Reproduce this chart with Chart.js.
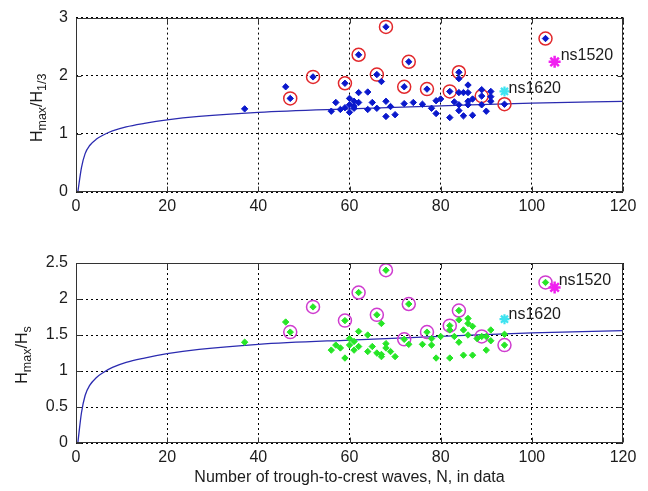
<!DOCTYPE html>
<html>
<head>
<meta charset="utf-8">
<script src="https://cdn.jsdelivr.net/npm/chart.js@4"></script>
<style>
  html, body { margin: 0; padding: 0; background: #fff; }
  #wrap { position: relative; width: 648px; height: 491px; }
  canvas { position: absolute; left: 0; }
  #top { top: 0; }
  #bot { top: 230px; }
</style>
</head>
<body>
<div id="wrap">
  <canvas id="top" width="648" height="230"></canvas>
  <canvas id="bot" width="648" height="261"></canvas>
</div>
<script>
// theoretical curve
const curveN = [0.4, 1.2, 2, 3, 4.5, 6, 8, 11, 15, 20, 27, 40, 60, 80, 100, 120];
const curveR = [0, 0.42, 0.66, 0.80, 0.91, 0.98, 1.05, 1.12, 1.18, 1.24, 1.30, 1.37, 1.43, 1.48, 1.53, 1.56];

// circled (outlier) records, shared N
const outN    = [47, 52, 59, 62, 66, 68, 72, 73, 77, 82, 84, 89, 94, 103];
const topOutR = [1.61, 1.98, 1.87, 2.36, 2.02, 2.84, 1.81, 2.24, 1.77, 1.73, 2.06, 1.65, 1.51, 2.64];
const botOutR = [1.54, 1.89, 1.70, 2.09, 1.78, 2.40, 1.44, 1.93, 1.54, 1.63, 1.84, 1.48, 1.36, 2.23];

// remaining records, upper panel (Hmax/H1/3)
const topN = [37, 46, 56, 57, 58, 59, 60, 60, 60, 61, 61, 61, 62, 62, 64, 64, 65, 66, 67, 68, 68, 69, 70,
              72, 74, 76, 78, 79, 79, 80, 82, 83, 84, 84, 84, 84, 85, 85, 86, 86, 86, 86, 87, 87,
              89, 89, 90, 91, 91, 91];
const topR = [1.43, 1.81, 1.39, 1.54, 1.42, 1.45, 1.61, 1.37, 1.50, 1.48, 1.44, 1.56, 1.71, 1.54, 1.72, 1.42, 1.54, 1.44, 1.90, 1.56, 1.30, 1.47, 1.33,
              1.52, 1.54, 1.51, 1.44, 1.35, 1.57, 1.60, 1.28, 1.55, 1.71, 1.95, 1.40, 1.50, 1.31, 1.71, 1.71, 1.56, 1.84, 1.50, 1.32, 1.60,
              1.76, 1.50, 1.39, 1.73, 1.56, 1.64];

// remaining records, lower panel (Hmax/Hs)
const botN = [37, 46, 56, 57, 58, 59, 60, 60, 61, 61, 62, 62, 64, 64, 65, 66, 67, 67, 67, 68, 68, 69, 70,
              73, 76, 78, 78, 79, 80, 82, 82, 83, 84, 84, 85, 85, 86, 86, 86, 87, 87, 88, 90, 90, 91, 91, 94];
const botR = [1.40, 1.68, 1.29, 1.36, 1.32, 1.18, 1.45, 1.36, 1.29, 1.41, 1.55, 1.34, 1.50, 1.27, 1.34, 1.25, 1.66, 1.23, 1.20, 1.32, 1.38, 1.27, 1.20,
              1.37, 1.37, 1.36, 1.45, 1.18, 1.48, 1.18, 1.57, 1.48, 1.40, 1.71, 1.22, 1.57, 1.50, 1.73, 1.66, 1.62, 1.22, 1.45, 1.48, 1.29, 1.57, 1.42, 1.51];

// named records
const specNames = ['ns1620', 'ns1520'];
const specN     = [94, 105];
const topSpecR  = [1.73, 2.24];
const botSpecR  = [1.72, 2.16];

const xTicks = [0, 20, 40, 60, 80, 100, 120];

const FONT = '"Liberation Sans", Arial, Helvetica, sans-serif';
const TXT = '#1c1c1c';

const pts = (xs, ys) => xs.map((v, i) => ({ x: v, y: ys[i] }));

function drawSubLabel(ctx, parts, x, yc) {
  const big = '16px ' + FONT, small = '12.5px ' + FONT;
  let w = 0;
  parts.forEach(p => { ctx.font = p[1] ? small : big; w += ctx.measureText(p[0]).width; });
  ctx.save();
  ctx.translate(x, yc);
  ctx.rotate(-Math.PI / 2);
  ctx.textAlign = 'left';
  ctx.textBaseline = 'alphabetic';
  ctx.fillStyle = TXT;
  let u = -w / 2;
  parts.forEach(p => {
    ctx.font = p[1] ? small : big;
    ctx.fillText(p[0], u, p[1] ? 4 : 0);
    u += ctx.measureText(p[0]).width;
  });
  ctx.restore();
}

// matlab-ish box, inward ticks, labels and text notes
const frame = {
  id: 'frame',
  afterDraw(chart, args, o) {
    const { ctx, chartArea: a, scales: { x, y } } = chart;
    ctx.save();
    ctx.strokeStyle = '#333';
    ctx.lineWidth = 1;
    const L = Math.round(a.left) + 0.5, R = Math.round(a.right) - 0.5;
    const T = Math.round(a.top) + 0.5, B = Math.round(a.bottom) - 0.5;
    ctx.strokeRect(L, T, R - L, B - T);
    ctx.beginPath();
    x.ticks.forEach(t => {
      const p = Math.round(x.getPixelForValue(t.value)) + 0.5;
      ctx.moveTo(p, B); ctx.lineTo(p, B - 5);
      ctx.moveTo(p, T); ctx.lineTo(p, T + 5);
    });
    y.ticks.forEach(t => {
      const p = Math.round(y.getPixelForValue(t.value)) + 0.5;
      ctx.moveTo(L, p); ctx.lineTo(L + 5, p);
      ctx.moveTo(R, p); ctx.lineTo(R - 5, p);
    });
    ctx.stroke();

    drawSubLabel(ctx, o.ylabel, o.ylabelX, (a.top + a.bottom) / 2 + o.ylabelDy);

    ctx.fillStyle = TXT;
    ctx.font = '16px ' + FONT;
    ctx.textAlign = 'left';
    ctx.textBaseline = 'middle';
    o.notes.forEach(n => {
      ctx.fillText(n.text, x.getPixelForValue(n.x) + n.dx, y.getPixelForValue(n.y) + n.dy);
    });

    if (o.xtitle) {
      ctx.textAlign = 'center';
      ctx.fillText(o.xtitle, (a.left + a.right) / 2, a.bottom + 35);
    }
    ctx.restore();
  }
};

function makeChart(id, cfg) {
  return new Chart(document.getElementById(id), {
    type: 'scatter',
    data: {
      datasets: [
        { data: pts(specN.slice(1), cfg.specR.slice(1)), pointStyle: 'star', radius: 6, borderWidth: 2.5,
          borderColor: '#f020f0', backgroundColor: '#f020f0' },
        { data: pts(specN.slice(0, 1), cfg.specR.slice(0, 1)), pointStyle: 'star', radius: 5, borderWidth: 2.2,
          borderColor: '#3fe3f0', backgroundColor: '#3fe3f0' },
        { data: pts(outN, cfg.outR).concat(pts(cfg.n, cfg.r)), pointStyle: 'rectRot', radius: 3.2, borderWidth: 1,
          borderColor: cfg.dot, backgroundColor: cfg.dot },
        { data: pts(outN, cfg.outR), pointStyle: 'circle', radius: 6.5, borderWidth: 1.5,
          borderColor: cfg.ring, backgroundColor: 'rgba(0,0,0,0)' },
        { type: 'line', data: pts(curveN, curveR), showLine: true, pointRadius: 0, borderWidth: 1.3,
          borderColor: '#2b2bb0', cubicInterpolationMode: 'monotone', fill: false }
      ]
    },
    options: {
      responsive: false,
      animation: false,
      events: [],
      layout: { padding: { left: 0, right: 25, top: cfg.padTop, bottom: 0 } },
      plugins: {
        legend: { display: false },
        tooltip: { enabled: false },
        frame: {
          ylabel: cfg.ylabel, ylabelX: cfg.ylabelX, ylabelDy: cfg.ylabelDy,
          notes: cfg.notes, xtitle: cfg.xtitle
        }
      },
      scales: {
        x: {
          type: 'linear', min: 0, max: 120,
          afterBuildTicks: s => { s.ticks = xTicks.map(v => ({ value: v })); },
          afterFit: s => { s.height = cfg.xHeight; },
          grid: { color: '#000', lineWidth: 1, drawTicks: false },
          border: { display: false, dash: [2, 3] },
          ticks: { color: TXT, font: { size: 16, family: FONT }, padding: 5, maxRotation: 0 }
        },
        y: {
          type: 'linear', min: 0, max: cfg.yMax,
          afterBuildTicks: s => { s.ticks = cfg.yTicks.map(v => ({ value: v })); },
          afterFit: s => { s.width = 76; },
          grid: { color: '#000', lineWidth: 1, drawTicks: false },
          border: { display: false, dash: [2, 3] },
          ticks: { color: TXT, font: { size: 16, family: FONT }, padding: 8, callback: v => String(v) }
        }
      }
    },
    plugins: [frame]
  });
}

makeChart('top', {
  n: topN, r: topR, outR: topOutR, specR: topSpecR,
  dot: '#0a18cc', ring: '#e2282c',
  yMax: 3, yTicks: [0, 1, 2, 3],
  padTop: 13, xHeight: 38,
  ylabel: [['H', 0], ['max', 1], ['/H', 0], ['1/3', 1]], ylabelX: 42, ylabelDy: 3,
  notes: [
    { text: specNames[0], x: specN[0], y: topSpecR[0], dx: 4, dy: -3 },
    { text: specNames[1], x: specN[1], y: topSpecR[1], dx: 6, dy: -6 }
  ],
  xtitle: null
});

makeChart('bot', {
  n: botN, r: botR, outR: botOutR, specR: botSpecR,
  dot: '#26e626', ring: '#cf3ccf',
  yMax: 2.5, yTicks: [0, 0.5, 1, 1.5, 2, 2.5],
  padTop: 33, xHeight: 48,
  ylabel: [['H', 0], ['max', 1], ['/H', 0], ['s', 1]], ylabelX: 27, ylabelDy: 2,
  notes: [
    { text: specNames[0], x: specN[0], y: botSpecR[0], dx: 4, dy: -5 },
    { text: specNames[1], x: specN[1], y: botSpecR[1], dx: 4, dy: -7 }
  ],
  xtitle: 'Number of trough-to-crest waves, N, in data'
});
</script>
</body>
</html>
